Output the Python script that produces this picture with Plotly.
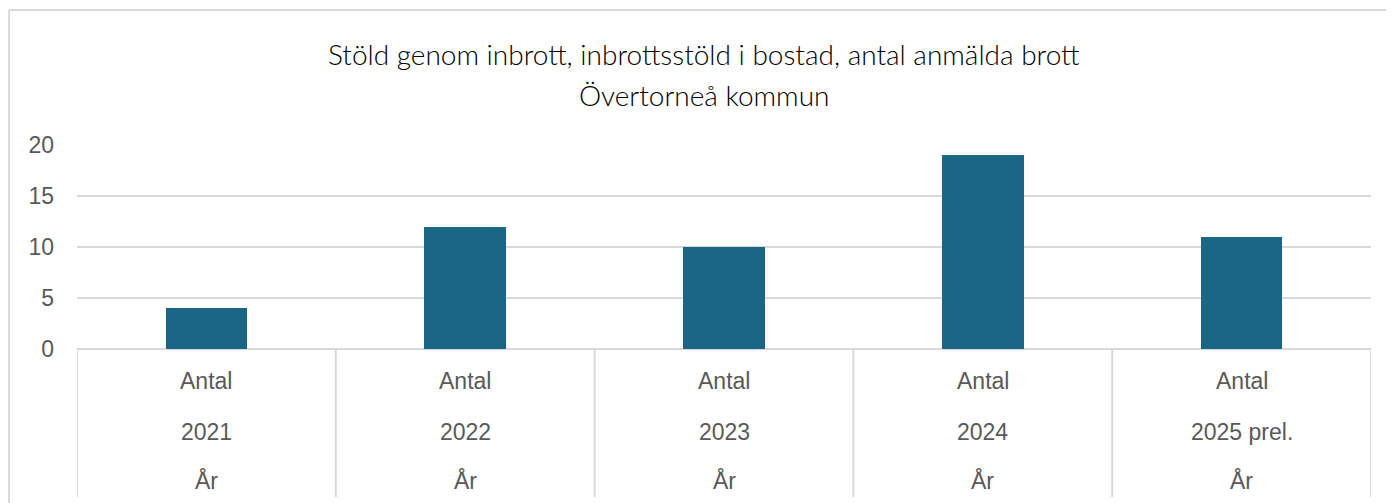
import plotly.graph_objects as go

categories = ["2021", "2022", "2023", "2024", "2025 prel."]
values = [4, 12, 10, 19, 11]
level1 = "Antal"
level3 = "År"
title_line1 = "Stöld genom inbrott, inbrottsstöld i bostad, antal anmälda brott"
title_line2 = "Övertorneå kommun"
y_ticks = [0, 5, 10, 15, 20]

bar_color = "#1b6585"
grid_color = "#d9d9d9"
text_color = "#595959"

OFF = 8  # page body margin
SW, SH = 1394, 503
W, H = SW - OFF, SH - OFF
# screen-pixel plot area
sx0, sx1, sy0, sy1 = 77, 1371, 145, 349
ml, mr, mt, mb = sx0 - OFF, W - (sx1 - OFF), sy0 - OFF, H - (sy1 - OFF)
ph = sy1 - sy0
pw = sx1 - sx0

def py(spix):
    return (sy1 - spix) / ph

def px(spix):
    return (spix - sx0) / pw

fig = go.Figure()
xs = list(range(len(categories)))
fig.add_trace(go.Bar(x=xs, y=values, marker=dict(color=bar_color, line=dict(width=0)),
                     width=0.315, hoverinfo="skip"))

shapes = []
shapes.append(dict(type="line", xref="paper", yref="paper",
                   x0=px(9), x1=px(SW + 10), y0=py(10), y1=py(10),
                   line=dict(color=grid_color, width=2)))
shapes.append(dict(type="line", xref="paper", yref="paper",
                   x0=px(9), x1=px(9), y0=py(10), y1=py(SH + 10),
                   line=dict(color=grid_color, width=2)))
for i in range(len(categories) + 1):
    shapes.append(dict(type="line", xref="x", yref="paper",
                       x0=i - 0.5, x1=i - 0.5, y0=0, y1=py(497),
                       line=dict(color=grid_color, width=2)))

annotations = []
lab_font = dict(family="Liberation Sans, Arial", size=23, color=text_color)
for i, c in enumerate(categories):
    for txt, ypix in [(level1, 381), (c, 432), (level3, 480)]:
        annotations.append(dict(x=i, y=py(ypix), xref="x", yref="paper", text=txt,
                                showarrow=False, xanchor="center", yanchor="middle",
                                font=lab_font))
title_font = dict(family="Lato", size=28, color="#000000", weight=300)
for txt, ypix in [(title_line1, 54), (title_line2, 95)]:
    annotations.append(dict(x=px(704), y=py(ypix), xref="paper", yref="paper",
                            text=txt, showarrow=False, xanchor="center", yanchor="middle",
                            font=title_font))

fig.update_layout(
    width=W, height=H,
    margin=dict(l=ml, r=mr, t=mt, b=mb),
    paper_bgcolor="white", plot_bgcolor="white",
    showlegend=False,
    shapes=shapes, annotations=annotations,
    xaxis=dict(range=[-0.5, len(categories) - 0.5], showticklabels=False, showgrid=False,
               zeroline=False, showline=False, ticks=""),
    yaxis=dict(range=[0, 20], tickvals=y_ticks, showgrid=True, gridcolor=grid_color, gridwidth=2,
               zeroline=True, zerolinecolor=grid_color, zerolinewidth=2,
               tickfont=lab_font, ticks="", ticklabelstandoff=22, showline=False),
    bargap=0,
)
fig.write_html("out.html")
